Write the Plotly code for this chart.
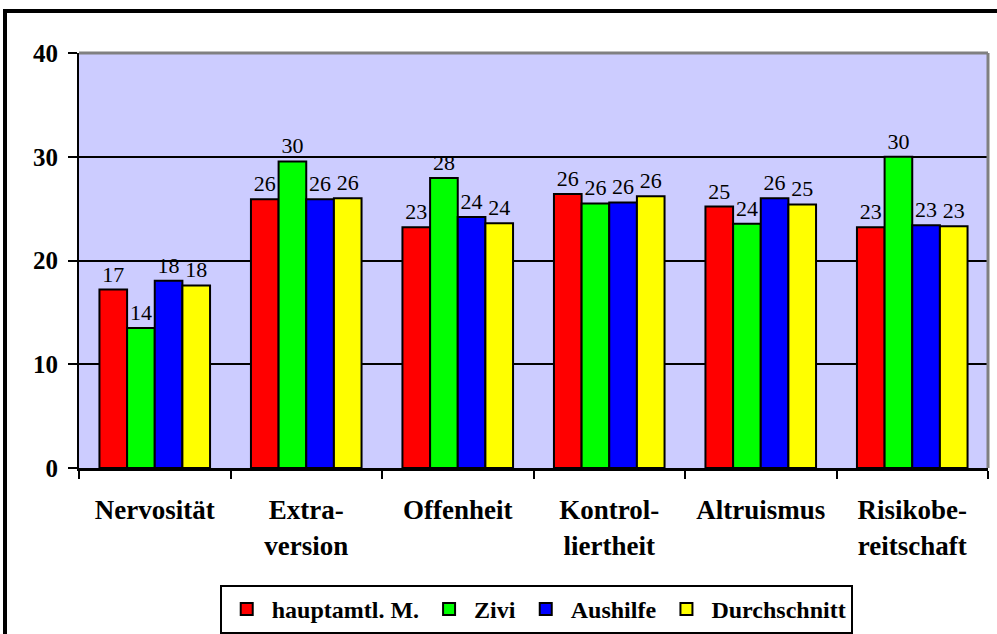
import plotly.graph_objects as go

categories = ["Nervosität", "Extra-<br>version", "Offenheit", "Kontrol-<br>liertheit", "Altruismus", "Risikobe-<br>reitschaft"]
series_names = ["hauptamtl. M.", "Zivi", "Aushilfe", "Durchschnitt"]
hauptamtl = [17.2, 25.9, 23.2, 26.4, 25.2, 23.2]
zivi = [13.5, 29.55, 27.95, 25.5, 23.55, 30.0]
aushilfe = [18.05, 25.9, 24.2, 25.6, 26.0, 23.4]
durchschnitt = [17.6, 26.0, 23.6, 26.2, 25.4, 23.3]
colors = ["#FF0000", "#00FF00", "#0000FF", "#FFFF00"]
y_ticks = [0, 10, 20, 30, 40]

SERIF = "Liberation Serif, Times New Roman, serif"

fig = go.Figure()
for name, vals, col in zip(series_names, [hauptamtl, zivi, aushilfe, durchschnitt], colors):
    fig.add_trace(go.Bar(
        name=name, x=categories, y=vals,
        marker=dict(color=col, line=dict(color="black", width=2)),
        texttemplate="%{y:.0f}", textposition="outside",
        textfont=dict(family=SERIF, size=22, color="black"),
        cliponaxis=False,
    ))

L, R, T, B = 79, 9, 53, 166
W, H = 997, 634
pw, ph = W - L - R, H - T - B

def px(x):
    return (x - L) / pw

def py(y):
    return (H - B - y) / ph

fig.update_layout(
    width=W, height=H,
    margin=dict(l=L, r=R, t=T, b=B, autoexpand=False),
    paper_bgcolor="white",
    plot_bgcolor="#CCCCFF",
    barmode="group",
    bargap=0.27,
    bargroupgap=0,
    showlegend=True,
    legend=dict(
        orientation="h", x=0.503, xanchor="center", y=py(585), yanchor="top",
        bordercolor="black", borderwidth=2, bgcolor="white",
        font=dict(family=SERIF, size=24, color="black", weight="bold"),
        itemwidth=40, tracegroupgap=0,
    ),
    font=dict(family=SERIF, color="black"),
    xaxis=dict(
        showline=True, linecolor="black", linewidth=3,
        ticks="outside", tickson="boundaries", ticklen=8, tickwidth=2, tickcolor="black",
        tickfont=dict(family=SERIF, size=27, color="black", weight="bold"),
        ticklabelstandoff=16,
        showgrid=False, automargin=False,
    ),
    yaxis=dict(
        range=[0, 40], tickvals=y_ticks,
        showline=True, linecolor="black", linewidth=2,
        ticks="outside", ticklen=9, tickwidth=2, tickcolor="black",
        tickfont=dict(family=SERIF, size=25, color="black", weight="bold"),
        ticklabelstandoff=5,
        showgrid=True, gridcolor="black", gridwidth=2,
        zeroline=False, automargin=False,
    ),
    shapes=[
        dict(type="line", xref="paper", yref="paper", x0=0, x1=1, y0=1, y1=1,
             line=dict(color="#808080", width=3), layer="above"),
        dict(type="line", xref="paper", yref="paper", x0=1, x1=1, y0=0, y1=1,
             line=dict(color="#808080", width=3), layer="above"),
        dict(type="rect", xref="paper", yref="paper",
             x0=px(5), x1=px(1010), y0=py(11), y1=py(650),
             line=dict(color="black", width=4), layer="below"),
    ],
)

fig.write_html("out.html", config={"displayModeBar": False},
               post_script="document.body.style.margin='0';")
